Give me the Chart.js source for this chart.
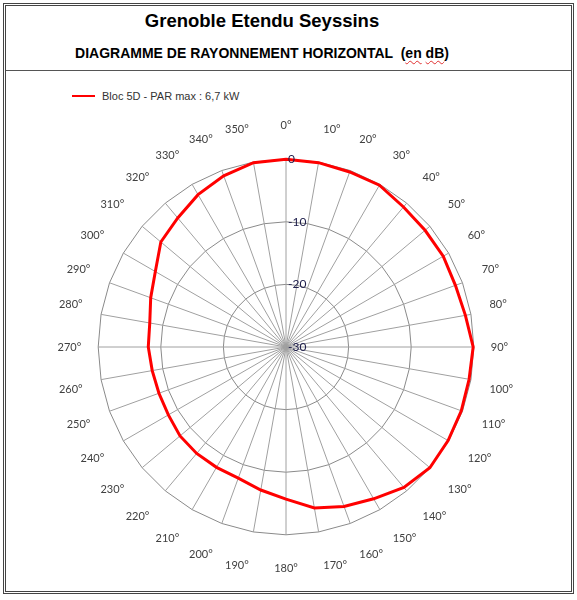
<!DOCTYPE html>
<html>
<head>
<meta charset="utf-8">
<script src="https://cdn.jsdelivr.net/npm/chart.js@4/dist/chart.umd.min.js"></script>
<style>
body { margin: 0; background: #fff; font-family: "Liberation Sans", Arial, sans-serif; }
#frame { position: absolute; left: 3px; top: 3px; width: 565px; height: 585px; border: 3px double #444; }
#sep { position: absolute; left: 6px; top: 70px; width: 565px; height: 0; border-top: 1px solid #555; }
.ttl { position: absolute; left: 62px; width: 400px; text-align: center; font-weight: bold; color: #000; white-space: pre; }
#t1 { top: 10px; font-size: 18.5px; }
#t2 { top: 45px; font-size: 14px; }
.sp { text-decoration: underline wavy #e03030; text-decoration-thickness: 1px; text-underline-offset: 2px; }
#leg { position: absolute; left: 72px; top: 90px; font-size: 11px; color: #333; }
#leg i { display: inline-block; width: 23px; height: 2px; background: #ff0000; vertical-align: middle; margin-right: 7px; position: relative; top: -1px; }
#c { position: absolute; left: 0; top: 100px; }
</style>
</head>
<body>
<div id="frame"></div>
<div id="sep"></div>
<div class="ttl" id="t1">Grenoble Etendu Seyssins</div>
<div class="ttl" id="t2">DIAGRAMME DE RAYONNEMENT HORIZONTAL  (<span class="sp">en</span> <span class="sp">dB</span>)</div>
<div id="leg"><i></i>Bloc 5D - PAR max : 6,7 kW</div>
<canvas id="c" width="577" height="500"></canvas>
<script>
// angles (libellés)
const angles = ['0°', '10°', '20°', '30°', '40°', '50°', '60°', '70°', '80°', '90°',
    '100°', '110°', '120°', '130°', '140°', '150°', '160°', '170°', '180°',
    '190°', '200°', '210°', '220°', '230°', '240°', '250°', '260°', '270°',
    '280°', '290°', '300°', '310°', '320°', '330°', '340°', '350°'];

// atténuation en dB, Bloc 5D
const bloc5D = [0, -0.1, -0.25, -0.15, -0.8, -1.0, -1.0, -1.2, -0.9, -0.1,
    -0.3, -0.2, -0.1, 0, -0.7, -2.0, -2.9, -3.9, -5.7,
    -6.8, -7.7, -7.8, -7.8, -7.9, -8.3, -8.4, -8.3, -8.0,
    -7.9, -7.0, -5.9, -3.9, -3.1, -1.9, -0.9, -0.1];

// graduations
const tickValues = [0, -10, -20, -30];
const tickLabels = ['0', '-10', '-20', '-30'];

// étiquettes de l'axe radial, à droite de l'axe 0°
const tickLabelPlugin = {
    id: 'tickLabels',
    afterDraw(chart) {
        const r = chart.scales.r;
        const ctx = chart.ctx;
        ctx.save();
        ctx.font = '12px Lato, "Open Sans", sans-serif';
        ctx.fillStyle = '#1c1c4a';
        ctx.textAlign = 'left';
        ctx.textBaseline = 'middle';
        tickValues.forEach((v, i) => {
            const y = r.yCenter - r.getDistanceFromCenterForValue(v);
            ctx.fillText(tickLabels[i], r.xCenter + 2, y);
        });
        ctx.restore();
    }
};

new Chart(document.getElementById('c'), {
    type: 'radar',
    data: {
        labels: angles,
        datasets: [{
            label: 'Bloc 5D - PAR max : 6,7 kW',
            data: bloc5D,
            borderColor: '#ff0000',
            borderWidth: 3,
            fill: false,
            pointRadius: 0,
            tension: 0,
        }]
    },
    options: {
        responsive: false,
        animation: false,
        layout: { padding: { left: 0, right: 4, top: 20, bottom: 24 } },
        plugins: {
            legend: { display: false },
            tooltip: { enabled: false },
        },
        scales: {
            r: {
                min: -30,
                max: 0,
                ticks: { stepSize: 10, display: false },
                grid: { color: '#8a8a8a', lineWidth: 1 },
                angleLines: { color: '#a0a0a0', lineWidth: 1 },
                pointLabels: {
                    font: { family: 'Lato', size: 11 },
                    color: '#404040',
                    padding: ctx => 17 + 10 * Math.abs(Math.cos(ctx.index * 10 * Math.PI / 180)),
                },
            },
        },
    },
    plugins: [tickLabelPlugin],
});
</script>
</body>
</html>
